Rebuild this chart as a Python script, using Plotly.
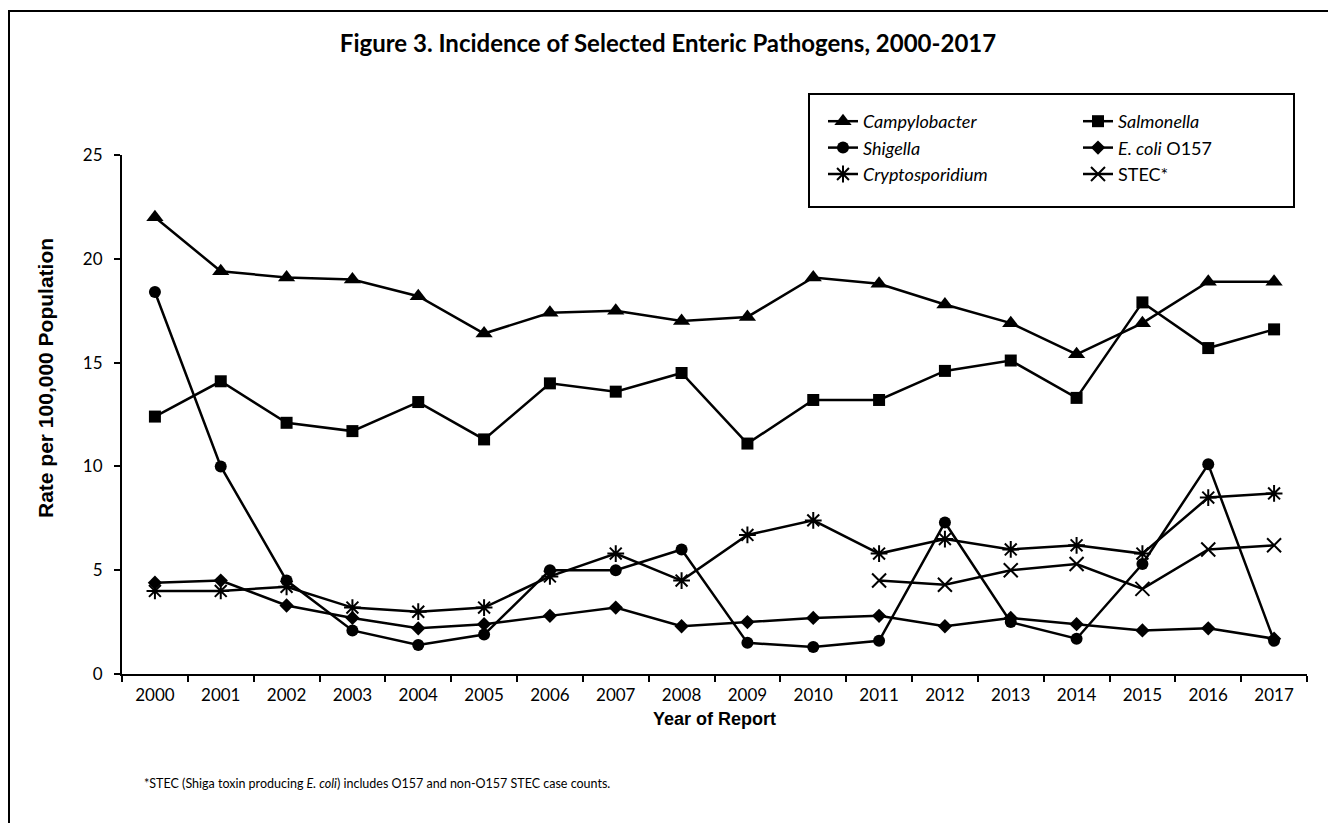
import plotly.graph_objects as go

years = [str(y) for y in range(2000, 2018)]

campylobacter = [22.0, 19.4, 19.1, 19.0, 18.2, 16.4, 17.4, 17.5, 17.0, 17.2, 19.1, 18.8, 17.8, 16.9, 15.4, 16.9, 18.9, 18.9]
salmonella = [12.4, 14.1, 12.1, 11.7, 13.1, 11.3, 14.0, 13.6, 14.5, 11.1, 13.2, 13.2, 14.6, 15.1, 13.3, 17.9, 15.7, 16.6]
shigella = [18.4, 10.0, 4.5, 2.1, 1.4, 1.9, 5.0, 5.0, 6.0, 1.5, 1.3, 1.6, 7.3, 2.5, 1.7, 5.3, 10.1, 1.6]
ecoli_o157 = [4.4, 4.5, 3.3, 2.7, 2.2, 2.4, 2.8, 3.2, 2.3, 2.5, 2.7, 2.8, 2.3, 2.7, 2.4, 2.1, 2.2, 1.7]
cryptosporidium = [4.0, 4.0, 4.2, 3.2, 3.0, 3.2, 4.7, 5.8, 4.5, 6.7, 7.4, 5.8, 6.5, 6.0, 6.2, 5.8, 8.5, 8.7]
stec = [None] * 11 + [4.5, 4.3, 5.0, 5.3, 4.1, 6.0, 6.2]

FONT = "Lato"
LINE = dict(color="black", width=2.5)

# la page ajoute une marge de 8 px : tout est décalé en conséquence
OFF = 8
L, T, PW, PH = 122, 155, 1185, 519   # zone de tracé en pixels de la page


def px(x):
    return (x - L) / PW


def py(y):
    return (T + PH - y) / PH


fig = go.Figure()

# colonne gauche de la légende
fig.add_trace(go.Scatter(x=years, y=campylobacter, name="<i>Campylobacter</i>", mode="lines+markers",
                         line=LINE, marker=dict(symbol="triangle-up", size=15, color="black"),
                         legend="legend"))
fig.add_trace(go.Scatter(x=years, y=shigella, name="<i>Shigella</i>", mode="lines+markers",
                         line=LINE, marker=dict(symbol="circle", size=12, color="black"),
                         legend="legend"))
fig.add_trace(go.Scatter(x=years, y=cryptosporidium, name="<i>Cryptosporidium</i>", mode="lines+markers",
                         line=LINE, marker=dict(symbol="asterisk-open", size=14, color="black",
                                                line=dict(color="black", width=2)),
                         legend="legend"))

# colonne droite
fig.add_trace(go.Scatter(x=years, y=salmonella, name="<i>Salmonella</i>", mode="lines+markers",
                         line=LINE, marker=dict(symbol="square", size=12, color="black"),
                         legend="legend2"))
fig.add_trace(go.Scatter(x=years, y=ecoli_o157, name="<i>E. coli</i> O157", mode="lines+markers",
                         line=LINE, marker=dict(symbol="diamond", size=11, color="black"),
                         legend="legend2"))
fig.add_trace(go.Scatter(x=years, y=stec, name="STEC*", mode="lines+markers",
                         line=LINE, marker=dict(symbol="x-thin-open", size=14, color="black",
                                                line=dict(color="black", width=2)),
                         legend="legend2"))

legend_style = dict(font=dict(family=FONT, size=18, color="black"), bgcolor="rgba(0,0,0,0)",
                    borderwidth=0, yanchor="top", xanchor="left", tracegroupgap=0)

fig.update_layout(
    width=1336, height=823,
    margin=dict(l=L - OFF, r=1336 - (L + PW - OFF), t=T - OFF, b=823 - (T + PH - OFF)),
    paper_bgcolor="white", plot_bgcolor="white",
    font=dict(family=FONT, color="black"),
    title=dict(text="<b>Figure 3. Incidence of Selected Enteric Pathogens, 2000-2017</b>",
               x=(668 - OFF) / 1336, xanchor="center", y=1 - (44 - OFF) / 823, yanchor="middle",
               yref="container", xref="container",
               font=dict(family=FONT, size=24, color="black")),
    legend=dict(x=px(823), y=py(103), **legend_style),
    legend2=dict(x=px(1078), y=py(103), **legend_style),
    showlegend=True,
)

fig.update_xaxes(type="category", range=[-0.5, 17.5], tickson="boundaries", ticks="outside",
                 ticklen=6, tickwidth=2, tickcolor="black", showline=True, linecolor="black",
                 linewidth=2, showgrid=False, ticklabelstandoff=5,
                 tickfont=dict(family=FONT, size=17, color="black"),
                 title=dict(text="<b>Year of Report</b>", standoff=8,
                            font=dict(family="Liberation Sans", size=18, color="black")))
fig.update_yaxes(range=[0, 25], dtick=5, ticks="outside", ticklen=6, tickwidth=2, tickcolor="black",
                 showline=True, linecolor="black", linewidth=2, showgrid=False, zeroline=False,
                 ticklabelstandoff=8,
                 tickfont=dict(family=FONT, size=17, color="black"))

# titre de l'axe Y placé à la main (décalé comme dans l'original)
fig.add_annotation(text="<b>Rate per 100,000 Population</b>", xref="paper", yref="paper",
                   x=px(45), y=py(378), textangle=-90, showarrow=False,
                   xanchor="center", yanchor="middle",
                   font=dict(family="Liberation Sans", size=21, color="black"))

# note de bas de page
fig.add_annotation(text="*STEC (Shiga toxin producing <i>E. coli</i>) includes O157 and non-O157 STEC case counts.",
                   xref="paper", yref="paper", x=px(142), y=py(783),
                   xanchor="left", yanchor="middle", showarrow=False,
                   font=dict(family=FONT, size=12.5, color="black"))

# cadre de la légende
fig.add_shape(type="rect", xref="paper", yref="paper",
              x0=px(809), x1=px(1294), y0=py(207), y1=py(94),
              line=dict(color="black", width=2), fillcolor="rgba(0,0,0,0)")

# cadre de la figure
fig.add_shape(type="rect", xref="paper", yref="paper",
              x0=px(OFF + 1), x1=px(1333), y0=py(860), y1=py(11),
              line=dict(color="black", width=2), fillcolor="rgba(0,0,0,0)")

fig.write_html("out.html")
